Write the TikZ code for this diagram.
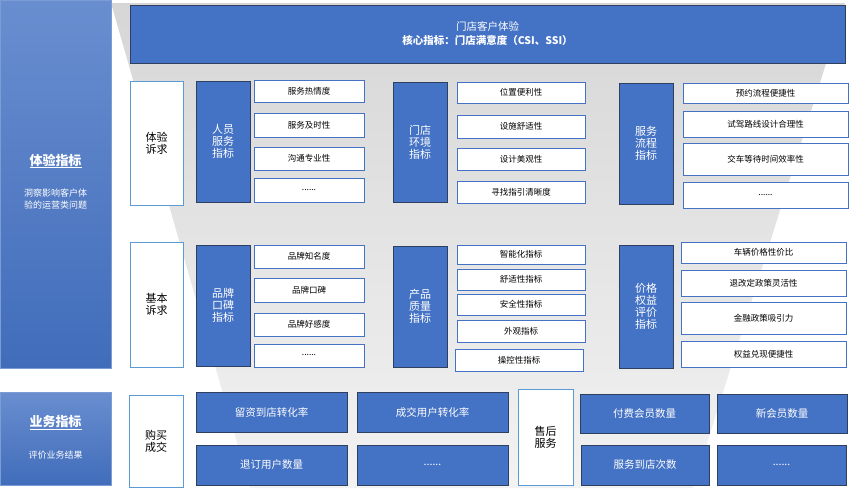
\documentclass[tikz,border=0pt]{standalone}
\usepackage{fontspec}
\setmainfont{Noto Sans CJK SC}
\usetikzlibrary{positioning}
\definecolor{mainblue}{HTML}{4472C4}
\definecolor{darkline}{HTML}{2F3F5F}
\definecolor{lightline}{HTML}{5B9BD5}
\tikzset{
  catbox/.style={fill=mainblue, draw=darkline, line width=0.6pt, text=white, align=center, font=\fontsize{11}{12}\selectfont},
  itembox/.style={fill=white, draw=mainblue, line width=0.6pt, font=\fontsize{8.5}{10}\selectfont},
  needbox/.style={fill=white, draw=lightline, line width=0.6pt, align=center, font=\fontsize{11}{12}\selectfont},
  resbox/.style={fill=mainblue, draw=darkline, line width=0.6pt, text=white, font=\fontsize{10.5}{12}\selectfont}
}
% box from top-left and bottom-right pixel corners
\newcommand{\pbox}[6]{\node[#1, minimum width=#4-#2, minimum height=#5-#3, inner sep=0pt] (#6) at ({(#2+#4)/2},{(#3+#5)/2})}
\begin{document}
\begin{tikzpicture}[x=1pt,y=-1pt]
    \useasboundingbox (0,0) rectangle (849,488);
    % the funnel behind
    \shade[top color=black!16, bottom color=black!5] (111,3) -- (845,3) -- (693,488) -- (250,488) -- cycle;
    % left side panels
    \shade[top color=mainblue!80, bottom color=mainblue!95!black, draw=mainblue!70] (0,0) rectangle (111,368);
    \shade[top color=mainblue!80, bottom color=mainblue!95!black, draw=mainblue!70] (0,392) rectangle (111,485);
    \node[text=white, font=\fontsize{13}{14}\bfseries] (exp-title) at (55.5,161) {\underline{体验指标}};
    \node[text=white, align=center, font=\fontsize{9}{12}\selectfont] (exp-note) at (55.5,199) {洞察影响客户体\\验的运营类问题};
    \node[text=white, font=\fontsize{13}{14}\bfseries] (biz-title) at (55.5,423) {\underline{业务指标}};
    \node[text=white, font=\fontsize{9}{12}\selectfont] (biz-note) at (55.5,455) {评价业务结果};
    % top banner
    \pbox{catbox, align=center, font=\fontsize{10.5}{14}\selectfont}{130}{5}{845}{63}{csi} {门店客户体验\\\textbf{核心指标：门店满意度（CSI、SSI）}};
    % demand boxes
    \pbox{needbox}{130}{81}{183}{205}{need-exp} {体验\\诉求};
    \pbox{needbox}{130}{242}{183}{367}{need-base} {基本\\诉求};
    \pbox{needbox}{129}{395}{183}{487}{need-buy} {购买\\成交};
    \pbox{needbox}{518}{389}{573}{485}{need-after} {售后\\服务};
    % category boxes
    \pbox{catbox}{196}{81}{250}{202}{cat-staff} {人员\\服务\\指标};
    \pbox{catbox}{196}{245}{250}{366}{cat-brand} {品牌\\口碑\\指标};
    \pbox{catbox}{393}{82}{447}{202}{cat-store} {门店\\环境\\指标};
    \pbox{catbox}{393}{246}{447}{367}{cat-product} {产品\\质量\\指标};
    \pbox{catbox}{619}{83}{673}{204}{cat-process} {服务\\流程\\指标};
    \pbox{catbox}{619}{245}{673}{368}{cat-price} {价格\\权益\\评价\\指标};
    % items of the first column
    \pbox{itembox}{254}{80}{364}{102}{staff-1} {服务热情度};
    \pbox{itembox}{254}{113}{364}{137}{staff-2} {服务及时性};
    \pbox{itembox}{254}{147}{364}{170}{staff-3} {沟通专业性};
    \pbox{itembox}{254}{178}{364}{202}{staff-4} {......};
    \pbox{itembox}{254}{245}{364}{268}{brand-1} {品牌知名度};
    \pbox{itembox}{254}{278}{364}{302}{brand-2} {品牌口碑};
    \pbox{itembox}{254}{313}{364}{336}{brand-3} {品牌好感度};
    \pbox{itembox}{254}{344}{364}{367}{brand-4} {......};
    % items of the second column
    \pbox{itembox}{457}{82}{585}{103}{store-1} {位置便利性};
    \pbox{itembox}{457}{115}{585}{138}{store-2} {设施舒适性};
    \pbox{itembox}{457}{148}{585}{170}{store-3} {设计美观性};
    \pbox{itembox}{457}{181}{585}{203}{store-4} {寻找指引清晰度};
    \pbox{itembox}{457}{245}{585}{264}{product-1} {智能化指标};
    \pbox{itembox}{457}{269}{585}{290}{product-2} {舒适性指标};
    \pbox{itembox}{457}{294}{585}{315}{product-3} {安全性指标};
    \pbox{itembox}{457}{320}{585}{342}{product-4} {外观指标};
    \pbox{itembox}{455}{349}{583}{371}{product-5} {操控性指标};
    % items of the third column
    \pbox{itembox}{683}{83}{848}{103}{process-1} {预约流程便捷性};
    \pbox{itembox}{683}{111}{848}{137}{process-2} {试驾路线设计合理性};
    \pbox{itembox}{683}{143}{848}{175}{process-3} {交车等待时间效率性};
    \pbox{itembox}{683}{182}{848}{208}{process-4} {......};
    \pbox{itembox}{681}{242}{846}{263}{price-1} {车辆价格性价比};
    \pbox{itembox}{681}{270}{846}{296}{price-2} {退改定政策灵活性};
    \pbox{itembox}{681}{302}{846}{334}{price-3} {金融政策吸引力};
    \pbox{itembox}{681}{341}{846}{367}{price-4} {权益兑现便捷性};
    % business results
    \pbox{resbox}{196}{392}{347}{432}{res-lead} {留资到店转化率};
    \pbox{resbox}{357}{392}{508}{432}{res-deal} {成交用户转化率};
    \pbox{resbox}{196}{445}{347}{485}{res-cancel} {退订用户数量};
    \pbox{resbox}{357}{445}{508}{485}{res-more} {......};
    \pbox{resbox}{580}{394}{709}{433}{res-paid} {付费会员数量};
    \pbox{resbox}{717}{394}{847}{433}{res-new} {新会员数量};
    \pbox{resbox}{581}{445}{709}{485}{res-visit} {服务到店次数};
    \pbox{resbox}{717}{445}{846}{485}{res-etc} {......};
\end{tikzpicture}
\end{document}
